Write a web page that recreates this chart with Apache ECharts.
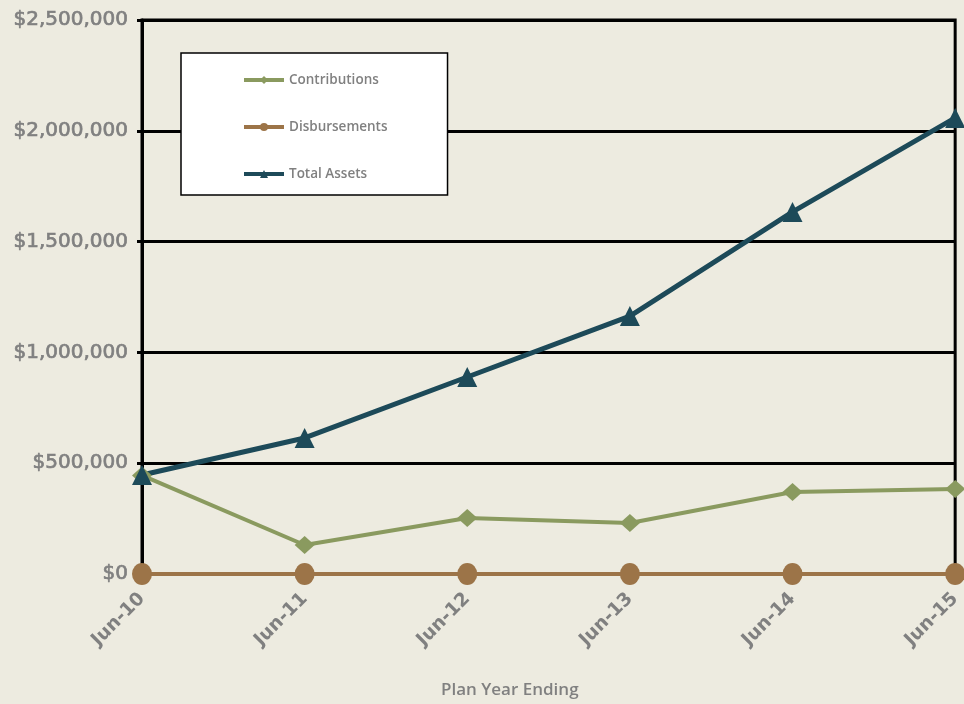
<!DOCTYPE html>
<html>
<head>
<meta charset="utf-8">
<script src="https://cdn.jsdelivr.net/npm/echarts@6/dist/echarts.min.js"></script>
<style>
  html, body { margin: 0; padding: 0; background: #edebe0; }
  #main { width: 964px; height: 704px; }
</style>
</head>
<body>
<div id="main"></div>
<script>
// data
const years = ['Jun-10', 'Jun-11', 'Jun-12', 'Jun-13', 'Jun-14', 'Jun-15'];
const contributions = [445000, 131000, 253000, 230000, 370000, 384000];
const disbursements = [0, 0, 0, 0, 0, 0];
const totalAssets = [447000, 614000, 889000, 1164000, 1634000, 2058000];

const gray = '#808080';
const chart = echarts.init(document.getElementById('main'));

function money(v) {
  return '$' + v.toLocaleString('en-US');
}

chart.setOption({
  backgroundColor: '#edebe0',
  animation: false,
  textStyle: { fontFamily: 'Open Sans' },
  grid: {
    left: 142, right: 7, top: 20, bottom: 130,
    show: true, borderColor: '#000', borderWidth: 3, backgroundColor: 'transparent'
  },
  legend: {
    orient: 'vertical',
    left: 181, top: 53,
    backgroundColor: '#fff',
    borderColor: '#000',
    borderWidth: 1.5,
    padding: [20, 60, 14, 61],
    itemGap: 33,
    itemWidth: 40,
    itemHeight: 10,
    lineStyle: { width: 4 },
    textStyle: { color: gray, fontSize: 13.5, fontWeight: 600, fontFamily: 'Open Sans' },
    data: ['Contributions', 'Disbursements', 'Total Assets']
  },
  xAxis: {
    type: 'category',
    data: years,
    boundaryGap: false,
    axisLine: { show: false },
    axisTick: { show: false },
    axisLabel: {
      rotate: 45, color: gray, fontSize: 18.5, fontWeight: 'bold', margin: 22,
      fontFamily: 'DejaVu Sans'
    }
  },
  yAxis: {
    type: 'value',
    min: 0, max: 2500000, interval: 500000,
    axisLine: { show: true, lineStyle: { color: '#000', width: 3 } },
    axisTick: { show: true, length: 5, lineStyle: { color: '#000', width: 3 } },
    splitLine: { lineStyle: { color: '#000', width: 3 } },
    axisLabel: {
      color: gray, fontSize: 20, margin: 14, formatter: money, fontFamily: 'DejaVu Sans',
      textBorderColor: gray, textBorderWidth: 0.7
    }
  },
  graphic: [{
    type: 'text', left: 441, top: 682,
    style: { text: 'Plan Year Ending', fill: gray, fontSize: 17, fontWeight: 600, fontFamily: 'Open Sans' }
  }],
  series: [
    {
      name: 'Contributions', type: 'line', data: contributions,
      symbol: 'diamond', symbolSize: [20, 18],
      itemStyle: { color: '#8a9a5f' },
      lineStyle: { color: '#8a9a5f', width: 4 }
    },
    {
      name: 'Disbursements', type: 'line', data: disbursements,
      symbol: 'circle', symbolSize: [20, 22],
      itemStyle: { color: '#9c7448' },
      lineStyle: { color: '#9c7448', width: 4 }
    },
    {
      name: 'Total Assets', type: 'line', data: totalAssets,
      symbol: 'triangle', symbolSize: [20, 20],
      itemStyle: { color: '#1d4a59' },
      lineStyle: { color: '#1d4a59', width: 5 }
    }
  ]
});
</script>
</body>
</html>
